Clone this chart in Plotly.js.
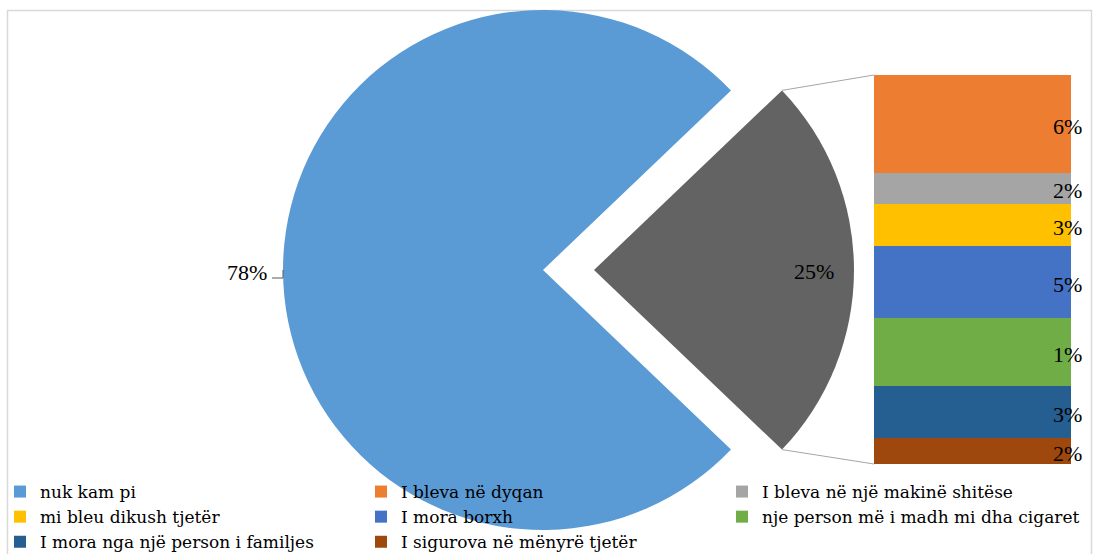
<!DOCTYPE html>
<html>
<head>
<meta charset="utf-8">
<script src="https://cdn.plot.ly/plotly-3.0.1.min.js"></script>
<style>
  html, body { margin: 0; padding: 0; background: #ffffff; }
  #chart { width: 1093px; height: 554px; }
</style>
</head>
<body>
<div id="chart"></div>
<script>
// ---- data ----
const pieLabels = ['nuk kam pi', 'Të tjera'];
const pieValues = [78, 25];
const pieTexts = ['78%', '25%'];
const pieColors = ['#5b9bd5', '#636363'];

const barCategories = [
  'I bleva në dyqan',
  'I bleva në një makinë shitëse',
  'mi bleu dikush tjetër',
  'I mora borxh',
  'nje person më i madh mi dha cigaret',
  'I mora nga një person i familjes',
  'I sigurova në mënyrë tjetër'
];
const segmentSizes = [6.3, 2.0, 2.7, 4.6, 4.4, 3.3, 1.7];
const segmentLabels = ['6%', '2%', '3%', '5%', '1%', '3%', '2%'];
const barColors = ['#ed7d31', '#a5a5a5', '#ffc000', '#4472c4', '#70ad47', '#255e91', '#9e480e'];

// ---- layout geometry (pixels) ----
const W = 1093, H = 554;
const R = 260;
const blueC = {x: 543, y: 270};
const greyC = {x: 594, y: 270};
const barBox = {x0: 874, x1: 1071, top: 75, bottom: 464};
const px = v => v / W;
const py = v => 1 - v / H;

const serif = 'Liberation Serif, Times New Roman, serif';
const legendSerif = 'DejaVu Serif, Liberation Serif, serif';

const total = pieValues[0] + pieValues[1];
const greyAngle = pieValues[1] / total * 360;
const rotation = 90 + greyAngle / 2;

function domainFor(c) {
  return {x: [px(c.x - R), px(c.x + R)], y: [py(c.y + R), py(c.y - R)]};
}

const traces = [];

// blue slice (grey slot left empty -> notch)
traces.push({
  type: 'pie', values: pieValues, labels: pieLabels, sort: false,
  direction: 'clockwise', rotation: rotation,
  marker: {colors: [pieColors[0], 'rgba(0,0,0,0)']},
  textinfo: 'none', textposition: 'none', hoverinfo: 'skip',
  showlegend: false, domain: domainFor(blueC)
});
// grey exploded slice
traces.push({
  type: 'pie', values: pieValues, labels: pieLabels, sort: false,
  direction: 'clockwise', rotation: rotation,
  marker: {colors: ['rgba(0,0,0,0)', pieColors[1]]},
  textinfo: 'none', textposition: 'none', hoverinfo: 'skip',
  showlegend: false, domain: domainFor(greyC)
});

// legend entry for the pie's main slice
traces.push({
  type: 'bar', name: pieLabels[0], x: [''], y: [null],
  marker: {color: pieColors[0]}, xaxis: 'x', yaxis: 'y', hoverinfo: 'skip'
});

// stacked bar segments
barCategories.forEach((name, i) => {
  traces.push({
    type: 'bar', name: name, x: [''], y: [segmentSizes[i]],
    marker: {color: barColors[i]}, xaxis: 'x', yaxis: 'y', hoverinfo: 'skip'
  });
});

const annotations = [];
let cum = 0;
segmentSizes.forEach((s, i) => {
  annotations.push({
    xref: 'paper', yref: 'y', x: px(barBox.x1 + 13), y: cum + s / 2 + 0.15,
    xanchor: 'right', yanchor: 'middle', showarrow: false,
    text: segmentLabels[i], font: {family: serif, size: 22, color: '#000'}
  });
  cum += s;
});
const segTotal = cum;

// pie labels
annotations.push({
  xref: 'paper', yref: 'paper', x: px(blueC.x - R - 14), y: py(blueC.y + 2),
  xanchor: 'right', yanchor: 'middle', showarrow: false,
  text: pieTexts[0], font: {family: serif, size: 22, color: '#000'}
});
annotations.push({
  xref: 'paper', yref: 'paper', x: px(greyC.x + R * 0.845), y: py(greyC.y + 1),
  xanchor: 'center', yanchor: 'middle', showarrow: false,
  text: pieTexts[1], font: {family: serif, size: 22, color: '#000'}
});

// connector lines from the exploded slice corners to the bar
const half = greyAngle / 2 * Math.PI / 180;
const cTop = {x: greyC.x + R * Math.cos(half), y: greyC.y - R * Math.sin(half)};
const cBot = {x: greyC.x + R * Math.cos(half), y: greyC.y + R * Math.sin(half)};

const shapes = [
  // outer frame
  {type: 'rect', xref: 'paper', yref: 'paper', x0: px(7.5), x1: px(1091.5), y0: -0.05, y1: py(10.5),
   line: {color: '#d9d9d9', width: 1.5}, fillcolor: 'rgba(0,0,0,0)', layer: 'below'},
  {type: 'line', xref: 'paper', yref: 'paper', x0: px(cTop.x), y0: py(cTop.y), x1: px(barBox.x0), y1: py(barBox.top),
   line: {color: '#a6a6a6', width: 1}},
  {type: 'line', xref: 'paper', yref: 'paper', x0: px(cBot.x), y0: py(cBot.y), x1: px(barBox.x0), y1: py(barBox.bottom),
   line: {color: '#a6a6a6', width: 1}},
  // leader for 78%
  {type: 'path', xref: 'paper', yref: 'paper',
   path: 'M' + px(blueC.x - R - 11) + ',' + py(blueC.y + 8) + ' L' + px(blueC.x - R) + ',' + py(blueC.y + 8) +
         ' L' + px(blueC.x - R) + ',' + py(blueC.y),
   line: {color: '#595959', width: 1}}
];

const layout = {
  width: W, height: H,
  margin: {l: 0, r: 0, t: 0, b: 0, autoexpand: false},
  paper_bgcolor: '#ffffff', plot_bgcolor: 'rgba(0,0,0,0)',
  barmode: 'stack', bargap: 0,
  xaxis: {domain: [px(barBox.x0), px(barBox.x1)], visible: false, type: 'category', fixedrange: true},
  yaxis: {domain: [py(barBox.bottom), py(barBox.top)], range: [segTotal, 0], visible: false, fixedrange: true},
  showlegend: true,
  legend: {
    orientation: 'h', x: 0, y: py(474), xanchor: 'left', yanchor: 'top',
    bgcolor: 'rgba(0,0,0,0)', entrywidth: 316, entrywidthmode: 'pixels',
    font: {family: legendSerif, size: 17, color: '#000'}, traceorder: 'normal'
  },
  annotations: annotations,
  shapes: shapes
};

Plotly.newPlot('chart', traces, layout, {staticPlot: true, displayModeBar: false});
</script>
</body>
</html>
